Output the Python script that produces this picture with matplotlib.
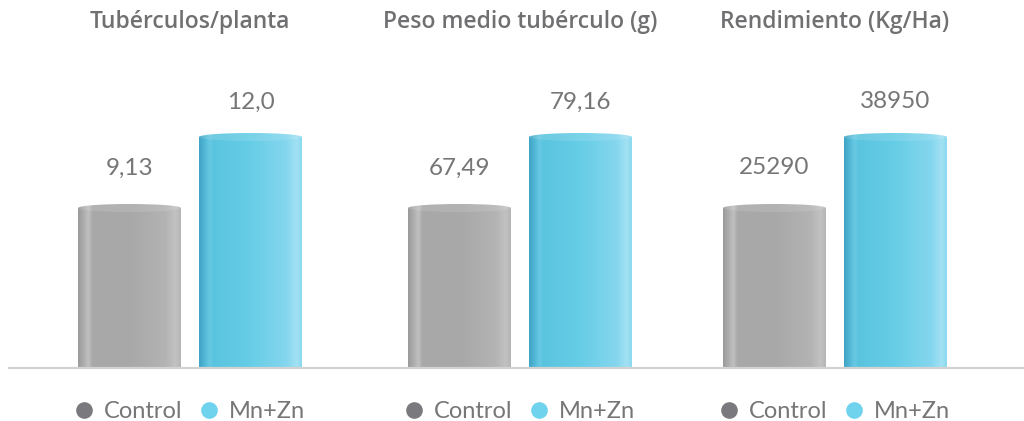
import matplotlib
matplotlib.use("Agg")
import matplotlib.pyplot as plt
import numpy as np
from matplotlib.colors import LinearSegmentedColormap
from matplotlib.patches import Ellipse
from matplotlib.lines import Line2D

titles = ["Tubérculos/planta", "Peso medio tubérculo (g)", "Rendimiento (Kg/Ha)"]
series = ["Control", "Mn+Zn"]
control = [9.13, 67.49, 25290]
mnzn = [12.0, 79.16, 38950]
value_labels = [["9,13", "12,0"], ["67,49", "79,16"], ["25290", "38950"]]

W, H = 1024, 421
fig = plt.figure(figsize=(W / 100, H / 100), dpi=100)
fig.patch.set_facecolor("white")

TXT = "#707072"
gray_cm = LinearSegmentedColormap.from_list("g", [
    (0.0, "#9a9a9b"), (0.06, "#b0b0b1"), (0.1, "#c0c0c1"), (0.14, "#a9a9aa"),
    (0.5, "#a8a8a9"), (0.85, "#b3b3b4"), (0.95, "#c2c2c3"), (1.0, "#b5b5b6")])
cyan_cm = LinearSegmentedColormap.from_list("c", [
    (0.0, "#3fa3c3"), (0.06, "#55bad8"), (0.1, "#68c8e2"), (0.14, "#5ac4df"),
    (0.5, "#67cde6"), (0.85, "#84d6ee"), (0.95, "#a2e1f3"), (1.0, "#8cd9ef")])
cmaps = [gray_cm, cyan_cm]
legend_cols = ["#7a7a7e", "#6fd3ee"]

# pixel geometry of the panels
base_px = 368          # baseline (from top)
ax_top_px = 60
ax_h_px = base_px - ax_top_px
lefts_px = [69, 399, 714]
step_px = 121
bar_w = 103 / step_px
h_ctrl_px, h_mn_px = 160, 231
cap_px = 4

for i in range(3):
    ax = fig.add_axes([lefts_px[i] / W, 1 - base_px / H, 2 * step_px / W, ax_h_px / H])
    vals = [control[i], mnzn[i]]
    r = h_ctrl_px / h_mn_px
    y0 = (vals[0] - r * vals[1]) / (1 - r)
    top = y0 + (vals[1] - y0) * ax_h_px / h_mn_px
    ax.set_xlim(-0.5, 1.5)
    ax.set_ylim(y0, top)
    ax.axis("off")
    per_px = (top - y0) / ax_h_px
    bars = ax.bar([0, 1], [v - y0 for v in vals], width=bar_w, bottom=y0,
                  color="none", edgecolor="none")
    grad = np.linspace(0, 1, 256).reshape(1, -1)
    for j, b in enumerate(bars):
        x0, x1 = b.get_x(), b.get_x() + b.get_width()
        v = vals[j]
        im = ax.imshow(grad, cmap=cmaps[j], aspect="auto", extent=(x0, x1, y0, v),
                       origin="lower", zorder=2)
        im.set_clip_path(b)
        el = Ellipse(((x0 + x1) / 2, v), x1 - x0, 2 * cap_px * per_px,
                     facecolor="none", edgecolor="none", zorder=3)
        ax.add_patch(el)
        im2 = ax.imshow(grad, cmap=cmaps[j], aspect="auto",
                        extent=(x0, x1, v - cap_px * per_px, v + cap_px * per_px),
                        origin="lower", zorder=3)
        im2.set_clip_path(el)
        el2 = Ellipse(((x0 + x1) / 2, v), x1 - x0, 2 * cap_px * per_px,
                      facecolor="white", alpha=0.12, edgecolor="none", zorder=4)
        ax.add_patch(el2)
        lab_off = 40 if j == 0 else 35
        ax.text((x0 + x1) / 2, v + lab_off * per_px, value_labels[i][j],
                ha="center", va="center", fontsize=17.5, color="#767678",
                family="Lato", fontweight="normal")
    fig.text((lefts_px[i] + step_px) / W, 1 - 22 / H, titles[i], ha="center",
             va="center", fontsize=16.5, color=TXT, family="Open Sans",
             fontweight="semibold")
    handles = [Line2D([], [], marker="o", linestyle="none", markersize=12,
                      markerfacecolor=legend_cols[k], markeredgecolor="none")
               for k in range(2)]
    ax.legend(handles, series, loc="center", ncol=2, frameon=False,
              bbox_to_anchor=(0.5, -44 / ax_h_px),
              handlelength=0.8, handletextpad=0.42, columnspacing=0.75,
              prop={"family": "Lato", "size": 17}, labelcolor="#767678")

# baseline
fig.add_artist(Line2D([9 / W, 1], [1 - base_px / H] * 2, color="#d2d2d2", lw=1.6,
                      zorder=5))

fig.savefig("out.png", dpi=100, facecolor="white")
